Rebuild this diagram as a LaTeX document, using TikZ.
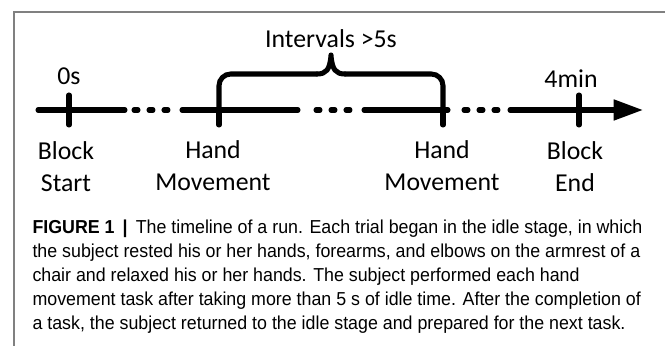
\documentclass[tikz,border=0pt]{standalone}
\usepackage{fontspec}
\setmainfont{Carlito}
\newfontfamily\capfont[FakeStretch=0.95]{Liberation Sans}
\usetikzlibrary{arrows.meta}
\tikzset{every path/.style={line width=4.3pt}}
\tikzset{dots/.style={dash pattern=on 3.4pt off 9.4pt, line cap=round},
  lbl/.style={font=\fontsize{22}{27.5}\selectfont, align=center, inner sep=0pt}}

\begin{document}
\begin{tikzpicture}[x=0.3mm,y=-0.3mm]
\useasboundingbox (0,0) rectangle (665,346);
\draw[line width=1.7pt, black!50] (14,346) -- (14,12) -- (665,12);

% timeline pieces
\coordinate (start) at (38,110);
\coordinate (a1) at (125,110);
\coordinate (b1) at (182,110);
\coordinate (a2) at (298,110);
\coordinate (b2) at (364,110);
\coordinate (a3) at (448,110);
\coordinate (b3) at (510,110);
\coordinate (stop) at (643,110);

\draw[line cap=round] (start) -- (a1);
\draw[dots] (134,110) -- (168,110);
\draw[line cap=round] (b1) -- (a2);
\draw[dots] (316,110) -- (350,110);
\draw[line cap=round] (b2) -- (a3);
\draw[dots] (464,110) -- (498,110);
\draw[line cap=round, -{Triangle[length=25pt,width=17pt]}] (b3) -- (stop);

% ticks
\coordinate (t0) at (69,110);
\coordinate (t1) at (219,110);
\coordinate (t2) at (443,110);
\coordinate (t3) at (579,110);
\draw[line cap=round] (69,95) -- (69,125);
\draw[line cap=round] (579,95) -- (579,125);
\draw[line cap=round] (t1) -- (219,125);
\draw[line cap=round] (t2) -- (443,125);

% brace
\coordinate (tip) at (331,55);
\draw[line cap=round, rounded corners=10pt] (t1) |- (317,74);
\draw[line cap=round, rounded corners=10pt] (t2) |- (345,74);
\draw[line cap=round, line join=round] (317,74) .. controls (326,74) and (330,70) .. (tip)
  .. controls (332,70) and (336,74) .. (345,74);

\node[lbl] (intv) at (331,39) {Intervals >5s};
\node[lbl] (zero) at (69,76) {0s};
\node[lbl] (four) at (571,79) {4min};
\node[lbl] (bstart) at (66,167) {Block\\Start};
\node[lbl] (hand1) at (213,166) {Hand\\Movement};
\node[lbl] (hand2) at (442,166) {Hand\\Movement};
\node[lbl] (bend) at (575,167) {Block\\End};

\node[anchor=north west, align=left, inner sep=0pt,
  font=\capfont\fontsize{16}{20.5}\selectfont] (cap) at (30,217)
  {\textbf{FIGURE 1 \,|\,} The timeline of a run. Each trial began in the idle stage, in which\\
  the subject rested his or her hands, forearms, and elbows on the armrest of a\\
  chair and relaxed his or her hands. The subject performed each hand\\
  movement task after taking more than 5 s of idle time. After the completion of\\
  a task, the subject returned to the idle stage and prepared for the next task.};
\end{tikzpicture}
\end{document}
